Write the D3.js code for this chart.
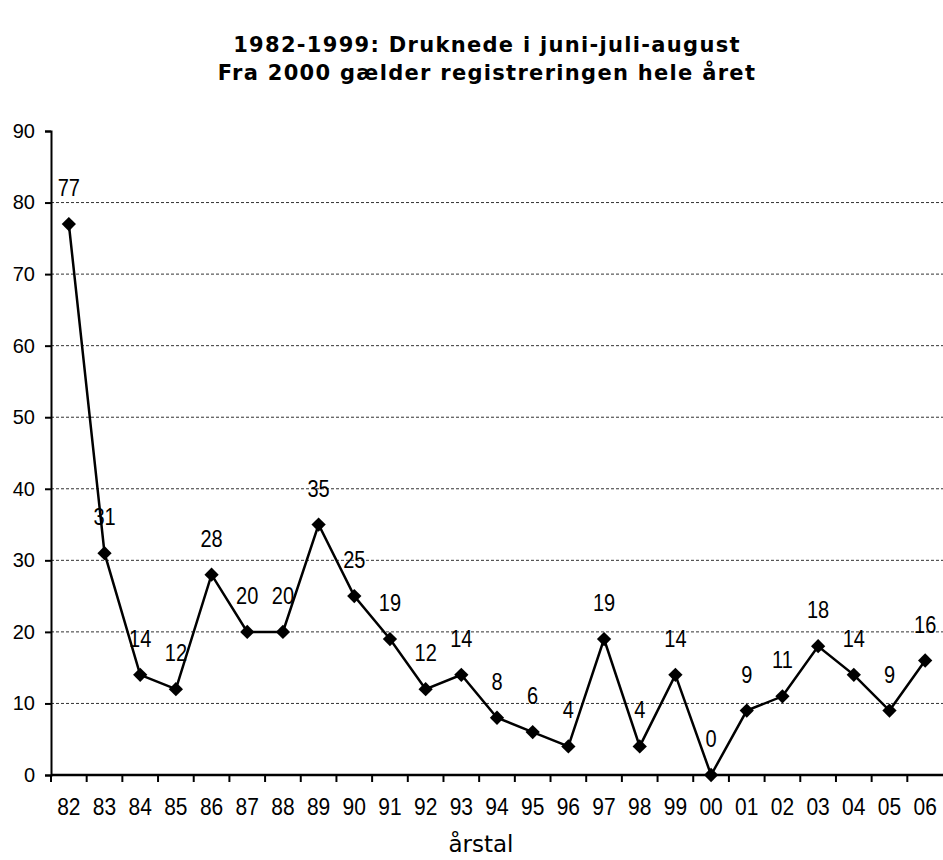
<!DOCTYPE html>
<html>
<head>
<meta charset="utf-8">
<script src="https://cdn.jsdelivr.net/npm/d3@7"></script>
<style>
  body { margin: 0; background: #fff; }
  svg { display: block; }
</style>
</head>
<body>
<svg id="chart" width="943" height="860"></svg>
<script>
var years = ["82","83","84","85","86","87","88","89","90","91","92","93","94","95","96","97","98","99","00","01","02","03","04","05","06"];
var drowned = [77,31,14,12,28,20,20,35,25,19,12,14,8,6,4,19,4,14,0,9,11,18,14,9,16];
var yTicks = [0,10,20,30,40,50,60,70,80,90];
var gridValues = [10,20,30,40,50,60,70,80];
var titleLines = ["1982-1999: Druknede i juni-juli-august", "Fra 2000 gælder registreringen hele året"];
var xTitle = "årstal";

var svg = d3.select("#chart"),
    plotLeft = 51,
    plotRight = 943,
    plotTop = 131,
    plotBottom = 775;

var xScale = d3.scaleBand().domain(years).range([plotLeft, plotRight]).padding(0),
    yScale = d3.scaleLinear().domain([0, 90]).range([plotBottom, plotTop]);

// title
svg.append("g").selectAll("text")
    .data(titleLines)
    .enter().append("text")
    .attr("x", 487)
    .attr("y", function(d, i) { return 52 + i * 28; })
    .attr("text-anchor", "middle")
    .style("font-family", "'DejaVu Sans', Verdana, sans-serif")
    .style("font-weight", "bold")
    .style("font-size", "21px")
    .style("letter-spacing", "1.3px")
    .text(function(d) { return d; });

// gridlines
svg.append("g").selectAll("line")
    .data(gridValues)
    .enter().append("line")
    .attr("x1", plotLeft)
    .attr("x2", plotRight)
    .attr("y1", function(d) { return yScale(d); })
    .attr("y2", function(d) { return yScale(d); })
    .attr("stroke", "#333")
    .attr("stroke-width", 1)
    .attr("stroke-dasharray", "3,2");

// y axis
var yAxis = svg.append("g")
    .attr("transform", "translate(" + plotLeft + ",0)")
    .call(d3.axisLeft(yScale).tickValues(yTicks).tickSize(6).tickPadding(10));
yAxis.select(".domain").attr("stroke", "#000").attr("stroke-width", 2);
yAxis.selectAll(".tick line").attr("stroke", "#000").attr("stroke-width", 2);
yAxis.selectAll("text")
    .style("font-family", "'Liberation Sans', Arial, sans-serif")
    .style("font-size", "20px")
    .attr("fill", "#000");

// x axis, ticks between categories
var xAxisG = svg.append("g").attr("transform", "translate(0," + plotBottom + ")");
xAxisG.append("line")
    .attr("x1", plotLeft).attr("x2", plotRight)
    .attr("stroke", "#000").attr("stroke-width", 2.5);
xAxisG.selectAll(".sep")
    .data(years)
    .enter().append("line")
    .attr("class", "sep")
    .attr("x1", function(d) { return xScale(d); })
    .attr("x2", function(d) { return xScale(d); })
    .attr("y1", 0).attr("y2", 7)
    .attr("stroke", "#000").attr("stroke-width", 2);
xAxisG.selectAll(".lbl")
    .data(years)
    .enter().append("text")
    .attr("class", "lbl")
    .attr("transform", function(d) {
        return "translate(" + (xScale(d) + xScale.bandwidth() / 2) + ",40) scale(1.05,1.15)";
    })
    .attr("text-anchor", "middle")
    .style("font-family", "'Liberation Sans', Arial, sans-serif")
    .style("font-size", "20px")
    .text(function(d) { return d; });

svg.append("text")
    .attr("x", 481)
    .attr("y", 852)
    .attr("text-anchor", "middle")
    .style("font-family", "'DejaVu Sans', Verdana, sans-serif")
    .style("font-size", "23px")
    .text(xTitle);

// line
var cx = function(d, i) { return xScale(years[i]) + xScale.bandwidth() / 2; };
var line = d3.line()
    .x(function(d, i) { return cx(d, i); })
    .y(function(d) { return yScale(d); });

svg.append("path")
    .datum(drowned)
    .attr("d", line)
    .attr("fill", "none")
    .attr("stroke", "#000")
    .attr("stroke-width", 2.5);

svg.append("g").selectAll("path")
    .data(drowned)
    .enter().append("path")
    .attr("d", d3.symbol().type(d3.symbolDiamond2).size(130))
    .attr("transform", function(d, i) { return "translate(" + cx(d, i) + "," + yScale(d) + ")"; })
    .attr("fill", "#000");

svg.append("g").selectAll("text")
    .data(drowned)
    .enter().append("text")
    .attr("transform", function(d, i) {
        return "translate(" + cx(d, i) + "," + (yScale(d) - 28) + ") scale(1,1.2)";
    })
    .attr("text-anchor", "middle")
    .style("font-family", "'Liberation Sans', Arial, sans-serif")
    .style("font-size", "20px")
    .text(function(d) { return d; });
</script>
</body>
</html>
